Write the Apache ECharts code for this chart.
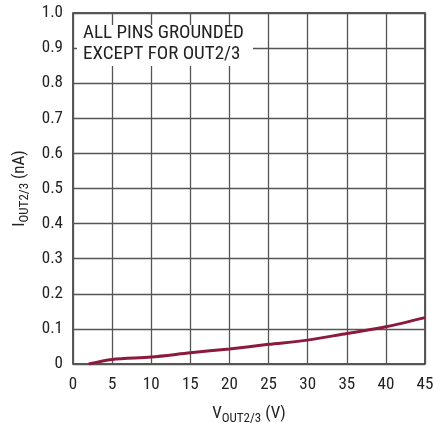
<!DOCTYPE html>
<html><head><meta charset="utf-8">
<script src="https://cdn.jsdelivr.net/npm/echarts@6/dist/echarts.min.js"></script>
<style>html,body{margin:0;padding:0;background:#fff}#c{width:434px;height:423px}</style>
</head><body><div id="c"></div>
<script>
var vOut = [2, 5, 10, 15, 20, 25, 30, 35, 40, 45];
var iOut = [0, 0.013, 0.02, 0.032, 0.043, 0.056, 0.068, 0.087, 0.106, 0.132];
var xTicks = [0, 5, 10, 15, 20, 25, 30, 35, 40, 45];
var yTicks = [0, 0.1, 0.2, 0.3, 0.4, 0.5, 0.6, 0.7, 0.8, 0.9, 1.0];
var noteLines = ['ALL PINS GROUNDED', 'EXCEPT FOR OUT2/3'];

var FONT = "'Liberation Sans Narrow', 'Roboto Condensed', 'Liberation Sans', Arial, sans-serif";
var chart = echarts.init(document.getElementById('c'));
var data = vOut.map(function (v, i) { return [v, iOut[i]]; });
var rich = {
  n: { fontSize: 17, fontFamily: FONT, color: '#222' },
  s: { fontSize: 13, fontFamily: FONT, color: '#222', padding: [9, 0, 0, 0] }
};
chart.setOption({
  animation: false,
  grid: { left: 73, right: 9, top: 13, bottom: 59, show: true, borderColor: '#222', borderWidth: 1.5,
    containLabel: false, outerBoundsMode: 'none' },
  xAxis: {
    type: 'value', min: 0, max: 45, interval: 5,
    axisLine: { show: false }, axisTick: { show: false },
    splitLine: { show: true, lineStyle: { color: '#555', width: 1.3 } },
    axisLabel: { color: '#222', fontSize: 17, fontFamily: FONT, margin: 12,
      formatter: function (v) { return xTicks.indexOf(v) >= 0 ? String(v) : ''; } },
    name: '{n|V}{s|OUT2/3}{n| (V)}', nameLocation: 'middle', nameGap: 39,
    nameTextStyle: { rich: rich }
  },
  yAxis: {
    type: 'value', min: 0, max: 1, interval: 0.1,
    axisLine: { show: false }, axisTick: { show: false },
    splitLine: { show: true, lineStyle: { color: '#555', width: 1.3 } },
    axisLabel: { color: '#222', fontSize: 17, fontFamily: FONT, margin: 10,
      formatter: function (v) {
        var r = Math.round(v * 10) / 10;
        if (r === 0) return '0';
        return r.toFixed(1);
      } },
    name: '{n|I}{s|OUT2/3}{n| (nA)}', nameLocation: 'middle', nameGap: 40,
    nameTextStyle: { rich: rich }
  },
  series: [{
    type: 'line', data: data, smooth: 0.3, symbol: 'none',
    lineStyle: { color: '#8b1a3c', width: 3 }, z: 5
  }],
  graphic: [
    { type: 'rect', left: 77, top: 25, shape: { width: 176, height: 41 }, style: { fill: '#fff' }, z: 10 },
    { type: 'text', left: 83, top: 24, z: 11, style: { text: noteLines[0], font: '19px ' + FONT, fill: '#222' } },
    { type: 'text', left: 83, top: 45, z: 11, style: { text: noteLines[1], font: '19px ' + FONT, fill: '#222' } }
  ]
});
</script></body></html>
